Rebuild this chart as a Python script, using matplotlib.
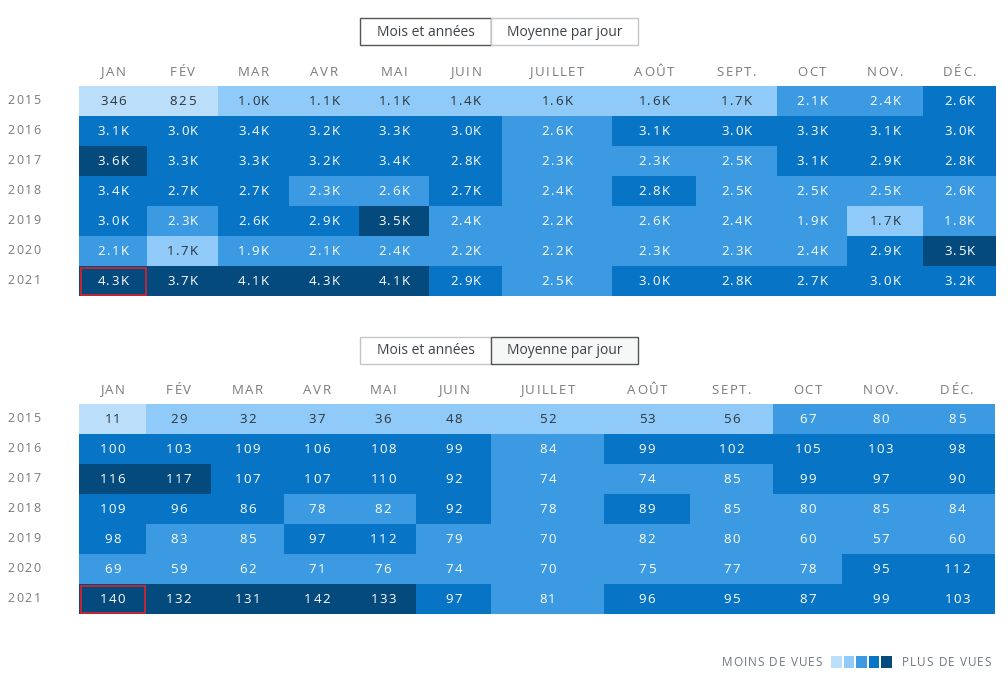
import matplotlib
matplotlib.use('Agg')
import matplotlib.pyplot as plt
from matplotlib.colors import ListedColormap
from matplotlib.patches import Rectangle
from matplotlib.font_manager import FontProperties
import numpy as np

plt.rcParams['font.family'] = ['Open Sans', 'DejaVu Sans']

months = ['JAN', 'FÉV', 'MAR', 'AVR', 'MAI', 'JUIN', 'JUILLET', 'AOÛT', 'SEPT.', 'OCT', 'NOV.', 'DÉC.']
years = ['2015', '2016', '2017', '2018', '2019', '2020', '2021']

# total views per month (labels as shown)
total_labels = [
    ['346', '825', '1.0K', '1.1K', '1.1K', '1.4K', '1.6K', '1.6K', '1.7K', '2.1K', '2.4K', '2.6K'],
    ['3.1K', '3.0K', '3.4K', '3.2K', '3.3K', '3.0K', '2.6K', '3.1K', '3.0K', '3.3K', '3.1K', '3.0K'],
    ['3.6K', '3.3K', '3.3K', '3.2K', '3.4K', '2.8K', '2.3K', '2.3K', '2.5K', '3.1K', '2.9K', '2.8K'],
    ['3.4K', '2.7K', '2.7K', '2.3K', '2.6K', '2.7K', '2.4K', '2.8K', '2.5K', '2.5K', '2.5K', '2.6K'],
    ['3.0K', '2.3K', '2.6K', '2.9K', '3.5K', '2.4K', '2.2K', '2.6K', '2.4K', '1.9K', '1.7K', '1.8K'],
    ['2.1K', '1.7K', '1.9K', '2.1K', '2.4K', '2.2K', '2.2K', '2.3K', '2.3K', '2.4K', '2.9K', '3.5K'],
    ['4.3K', '3.7K', '4.1K', '4.3K', '4.1K', '2.9K', '2.5K', '3.0K', '2.8K', '2.7K', '3.0K', '3.2K'],
]
total_levels = [
    [0, 0, 1, 1, 1, 1, 1, 1, 1, 2, 2, 3],
    [3, 3, 3, 3, 3, 3, 2, 3, 3, 3, 3, 3],
    [4, 3, 3, 3, 3, 3, 2, 2, 2, 3, 3, 3],
    [3, 3, 3, 2, 2, 3, 2, 3, 2, 2, 2, 2],
    [3, 2, 3, 3, 4, 2, 2, 2, 2, 2, 1, 2],
    [2, 1, 2, 2, 2, 2, 2, 2, 2, 2, 3, 4],
    [4, 4, 4, 4, 4, 3, 2, 3, 3, 3, 3, 3],
]

# average views per day
avg_values = [
    [11, 29, 32, 37, 36, 48, 52, 53, 56, 67, 80, 85],
    [100, 103, 109, 106, 108, 99, 84, 99, 102, 105, 103, 98],
    [116, 117, 107, 107, 110, 92, 74, 74, 85, 99, 97, 90],
    [109, 96, 86, 78, 82, 92, 78, 89, 85, 80, 85, 84],
    [98, 83, 85, 97, 112, 79, 70, 82, 80, 60, 57, 60],
    [69, 59, 62, 71, 76, 74, 70, 75, 77, 78, 95, 112],
    [140, 132, 131, 142, 133, 97, 81, 96, 95, 87, 99, 103],
]
avg_levels = [
    [0, 1, 1, 1, 1, 1, 1, 1, 1, 2, 2, 2],
    [3, 3, 3, 3, 3, 3, 2, 3, 3, 3, 3, 3],
    [4, 4, 3, 3, 3, 3, 2, 2, 2, 3, 3, 3],
    [3, 3, 3, 2, 2, 3, 2, 3, 2, 2, 2, 2],
    [3, 2, 2, 3, 3, 2, 2, 2, 2, 2, 2, 2],
    [2, 2, 2, 2, 2, 2, 2, 2, 2, 2, 3, 3],
    [4, 4, 4, 4, 4, 3, 2, 3, 3, 3, 3, 3],
]

level_colors = ['#bbdefb', '#90caf9', '#3b9ae1', '#0774c6', '#054a7d']
cmap = ListedColormap(level_colors)

W, H = 1008, 679
fig = plt.figure(figsize=(W / 100, H / 100), dpi=100)
ax = fig.add_axes([0, 0, 1, 1])
ax.set_xlim(0, W)
ax.set_ylim(H, 0)
ax.axis('off')
renderer = fig.canvas.get_renderer()

label_gray = '#7a7a7a'


def char_w(c, prop):
    w, _, _ = renderer.get_text_width_height_descent(c, prop, ismath=False)
    return w


def spaced_text(x, y, s, ha='center', size=9.5, color='black', track=1.5, zorder=2):
    # draw text with letter spacing (css letter-spacing look)
    prop = FontProperties(family=['Open Sans', 'DejaVu Sans'], size=size)
    widths = [char_w(c, prop) if c != ' ' else char_w('n', prop) * 0.45 for c in s]
    total = sum(widths) + track * (len(s) - 1)
    if ha == 'center':
        x0 = x - total / 2
    elif ha == 'right':
        x0 = x - total
    else:
        x0 = x
    for c, w in zip(s, widths):
        if c != ' ':
            ax.text(x0, y, c, ha='left', va='center', fontproperties=prop,
                    color=color, zorder=zorder)
        x0 += w + track


def button(x0, x1, y0, y1, text, active):
    edge = '#555555' if active else '#c3c4c7'
    face = '#f6f7f7' if active and text.startswith('Moy') else '#ffffff'
    ax.add_patch(Rectangle((x0, y0), x1 - x0, y1 - y0, facecolor=face,
                           edgecolor=edge, linewidth=1.0, zorder=3))
    ax.text((x0 + x1) / 2, (y0 + y1) / 2 + 0.5, text, ha='center', va='center',
            fontsize=10, color='#3c434a', zorder=4)


def heatmap(xedges, y0, labels, levels, header_y, btn_y, active):
    yedges = y0 + 30 * np.arange(len(years) + 1)
    ax.pcolormesh(xedges, yedges, np.array(levels), cmap=cmap, vmin=-0.5,
                  vmax=4.5, shading='flat', zorder=1)
    xc = (np.array(xedges[:-1]) + np.array(xedges[1:])) / 2
    yc = (yedges[:-1] + yedges[1:]) / 2
    for j, m in enumerate(months):
        spaced_text(xc[j], header_y, m, size=9.5, color=label_gray, track=1.6)
    for i, yr in enumerate(years):
        spaced_text(24, yc[i], yr, size=9, color=label_gray, track=1.6)
        for j in range(len(months)):
            col = '#2c3338' if levels[i][j] < 2 else 'white'
            spaced_text(xc[j], yc[i] + 0.5, str(labels[i][j]), size=9.5,
                        color=col, track=1.4)
    # highlighted cell (current month)
    ax.add_patch(Rectangle((xedges[0] + 1.5, yedges[-2] + 1.5),
                           xedges[1] - xedges[0] - 3, 27, fill=False,
                           edgecolor='#e0202a', linewidth=1.2, zorder=3))
    button(360, 491, btn_y, btn_y + 27, 'Mois et années', active == 0)
    button(491, 638, btn_y, btn_y + 27, 'Moyenne par jour', active == 1)


top_edges = [79, 147, 218, 289, 359, 429, 502, 612, 696, 777, 847, 923, 996]
bottom_edges = [79, 146, 211, 284, 350, 416, 491, 604, 690, 773, 842, 919, 995]

heatmap(top_edges, 86, total_labels, total_levels, 72, 18, 0)
heatmap(bottom_edges, 404, avg_values, avg_levels, 390, 337, 1)

# legend
spaced_text(822, 662, 'MOINS DE VUES', ha='right', size=8.5, color='#6f7680', track=1.0)
for k, c in enumerate(level_colors):
    ax.add_patch(Rectangle((831 + 12.6 * k, 656), 10.5, 11.5, facecolor=c,
                           edgecolor='none'))
spaced_text(902, 662, 'PLUS DE VUES', ha='left', size=8.5, color='#6f7680', track=1.0)

fig.savefig('out.png', dpi=100)
